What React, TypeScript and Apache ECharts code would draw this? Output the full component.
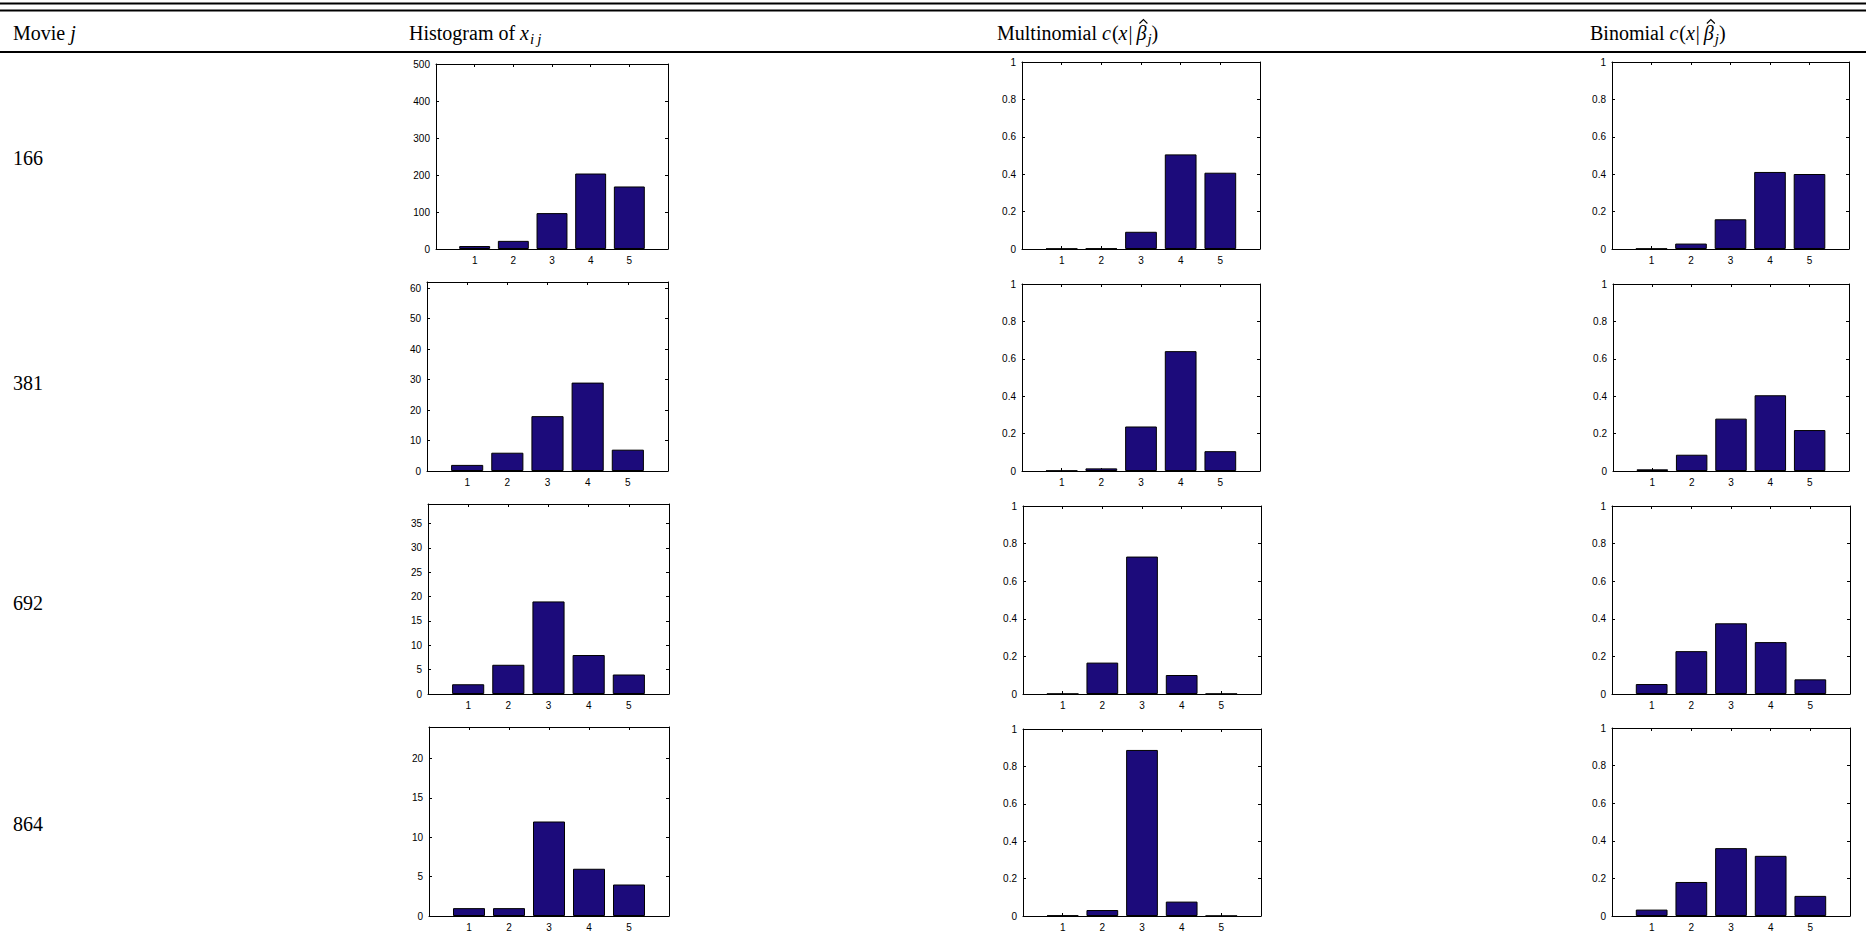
import React, { useEffect, useRef } from 'react';
import * as echarts from 'echarts';

// ---------- data ----------
const categories = [1, 2, 3, 4, 5];
const movieIds = ['166', '381', '692', '864'];

const hist166 = [8, 22, 97, 204, 169];
const hist381 = [2, 6, 18, 29, 7];
const hist692 = [2, 6, 19, 8, 4];
const hist864 = [1, 1, 12, 6, 4];

const multi166 = [0.002, 0.003, 0.092, 0.506, 0.408];
const multi381 = [0.002, 0.014, 0.238, 0.641, 0.106];
const multi692 = [0.001, 0.167, 0.731, 0.101, 0.001];
const multi864 = [0.003, 0.032, 0.888, 0.077, 0.001];

const binom166 = [0.002, 0.029, 0.159, 0.412, 0.401];
const binom381 = [0.009, 0.087, 0.280, 0.405, 0.219];
const binom692 = [0.053, 0.228, 0.376, 0.276, 0.078];
const binom864 = [0.034, 0.181, 0.361, 0.320, 0.107];

const histYMax = [500, 62, 39, 24];
const histYStep = [100, 10, 5, 5];
const probYMax = 1;
const probYStep = 0.2;

// header texts: [text, kind] where n = roman, i = italic, s = italic subscript, h = hat over previous
const headerMovie: [string, string][] = [['Movie ', 'n'], ['j', 'i']];
const headerHist: [string, string][] = [['Histogram of ', 'n'], ['x', 'i'], ['i\u2009j', 's']];
const headerMulti: [string, string][] = [
  ['Multinomial ', 'n'], ['c', 'i'], ['(', 'n'], ['x', 'i'], ['|\u2009', 'n'], ['\u03B2', 'i'], ['', 'h'], ['j', 's'], [')', 'n'],
];
const headerBinom: [string, string][] = [
  ['Binomial ', 'n'], ['c', 'i'], ['(', 'n'], ['x', 'i'], ['|\u2009', 'n'], ['\u03B2', 'i'], ['', 'h'], ['j', 's'], [')', 'n'],
];

// ---------- layout (px) ----------
const histBoxes = [
  [436, 64, 232, 185],
  [427, 282, 241, 189],
  [428, 504, 241, 190],
  [429, 727, 240, 189],
];
const multiBoxes = [
  [1022, 62, 238, 187],
  [1022, 284, 238, 187],
  [1023, 506, 238, 188],
  [1023, 729, 238, 187],
];
const binomBoxes = [
  [1612, 62, 237, 187],
  [1613, 284, 236, 187],
  [1612, 506, 238, 188],
  [1612, 728, 238, 188],
];
const rowLabelY = [158, 383, 603, 824];
const headerX = [13, 409, 997, 1590];
const HEADER_Y = 33;

const BAR_COLOR = '#1c0b7b';
const SANS = "'Liberation Sans', Arial, Helvetica, sans-serif";
const SERIF = "'Liberation Serif', 'Times New Roman', Times, serif";

function fontFor(kind: string) {
  if (kind === 'n') return `20px ${SERIF}`;
  if (kind === 'i') return `italic 20px ${SERIF}`;
  return `italic 15px ${SERIF}`;
}

function buildHeader(x0: number, segs: [string, string][]) {
  const ctx = document.createElement('canvas').getContext('2d') as CanvasRenderingContext2D;
  const els: any[] = [];
  let x = x0;
  let prevX = x0;
  let prevW = 0;
  segs.forEach(([text, kind]) => {
    if (kind === 'h') {
      const cx = prevX + prevW / 2 + 2;
      els.push({
        type: 'polyline',
        silent: true,
        shape: { points: [[cx - 4, 23.5], [cx, 19.5], [cx + 4, 23.5]] },
        style: { stroke: '#000', lineWidth: 1.1, fill: null },
      });
      return;
    }
    const font = fontFor(kind);
    ctx.font = font;
    const w = ctx.measureText(text).width;
    const dy = kind === 's' ? 6 : 0;
    els.push({
      type: 'text',
      x,
      y: HEADER_Y + dy,
      silent: true,
      style: { text, font, fill: '#000', align: 'left', verticalAlign: 'middle' },
    });
    prevX = x;
    prevW = w;
    x += w + (kind === 'i' ? 1 : 0);
  });
  return els;
}

export default function App() {
  const ref = useRef<HTMLDivElement>(null);

  useEffect(() => {
    if (!ref.current) return;
    const chart = echarts.init(ref.current, undefined, { renderer: 'svg' });

    const columns = [
      { boxes: histBoxes, values: [hist166, hist381, hist692, hist864], maxes: histYMax, steps: histYStep },
      {
        boxes: multiBoxes,
        values: [multi166, multi381, multi692, multi864],
        maxes: [probYMax, probYMax, probYMax, probYMax],
        steps: [probYStep, probYStep, probYStep, probYStep],
      },
      {
        boxes: binomBoxes,
        values: [binom166, binom381, binom692, binom864],
        maxes: [probYMax, probYMax, probYMax, probYMax],
        steps: [probYStep, probYStep, probYStep, probYStep],
      },
    ];

    const grid: any[] = [];
    const xAxis: any[] = [];
    const yAxis: any[] = [];
    const series: any[] = [];

    const lineStyle = { color: '#000', width: 1 };
    const tick = { show: true, inside: true, length: 3, lineStyle: { color: '#000', width: 1 } };

    columns.forEach((col) => {
      col.boxes.forEach((b, r) => {
        const gi = grid.length;
        grid.push({ left: b[0], top: b[1], width: b[2], height: b[3], containLabel: false });
        const step = col.steps[r];
        const max = col.maxes[r];
        const xBase = {
          type: 'value',
          gridIndex: gi,
          min: 0,
          max: 6,
          interval: 1,
          splitLine: { show: false },
          axisLine: { show: true, onZero: false, lineStyle },
          axisTick: tick,
        };
        xAxis.push({
          ...xBase,
          position: 'bottom',
          axisLabel: {
            show: true,
            margin: 6,
            fontSize: 10,
            fontFamily: SANS,
            color: '#000',
            formatter: (v: number) => (v >= 1 && v <= 5 ? String(v) : ''),
          },
        });
        xAxis.push({ ...xBase, position: 'top', axisLabel: { show: false } });
        const yBase = {
          type: 'value',
          gridIndex: gi,
          min: 0,
          max,
          interval: step,
          splitLine: { show: false },
          axisLine: { show: true, onZero: false, lineStyle },
          axisTick: tick,
        };
        yAxis.push({
          ...yBase,
          position: 'left',
          axisLabel: {
            show: true,
            margin: 6,
            fontSize: 10,
            fontFamily: SANS,
            color: '#000',
            showMaxLabel: true,
            formatter: (v: number) => {
              const k = v / step;
              return Math.abs(k - Math.round(k)) < 1e-6 ? String(Math.round(v * 1000) / 1000) : '';
            },
          },
        });
        yAxis.push({ ...yBase, position: 'right', axisLabel: { show: false } });
        series.push({
          type: 'bar',
          xAxisIndex: gi * 2,
          yAxisIndex: gi * 2,
          barWidth: '80%',
          data: categories.map((c, i) => [c, col.values[r][i]]),
          itemStyle: { color: BAR_COLOR, borderColor: '#000', borderWidth: 1 },
          silent: true,
        });
      });
    });

    const graphic: any[] = [
      { type: 'line', silent: true, shape: { x1: 0, y1: 3.5, x2: 1866, y2: 3.5 }, style: { stroke: '#000', lineWidth: 2 } },
      { type: 'line', silent: true, shape: { x1: 0, y1: 10.5, x2: 1866, y2: 10.5 }, style: { stroke: '#000', lineWidth: 2 } },
      { type: 'line', silent: true, shape: { x1: 0, y1: 52, x2: 1866, y2: 52 }, style: { stroke: '#000', lineWidth: 2 } },
      ...buildHeader(headerX[0], headerMovie),
      ...buildHeader(headerX[1], headerHist),
      ...buildHeader(headerX[2], headerMulti),
      ...buildHeader(headerX[3], headerBinom),
      ...movieIds.map((id, r) => ({
        type: 'text',
        x: 13,
        y: rowLabelY[r],
        silent: true,
        style: { text: id, font: `20px ${SERIF}`, fill: '#000', verticalAlign: 'middle', align: 'left' },
      })),
    ];

    chart.setOption({
      animation: false,
      backgroundColor: '#fff',
      grid,
      xAxis,
      yAxis,
      series,
      graphic,
    });

    return () => chart.dispose();
  }, []);

  return (
    <div
      ref={ref}
      style={{ position: 'fixed', left: 0, top: 0, width: '1866px', height: '938px', background: '#fff' }}
    />
  );
}
